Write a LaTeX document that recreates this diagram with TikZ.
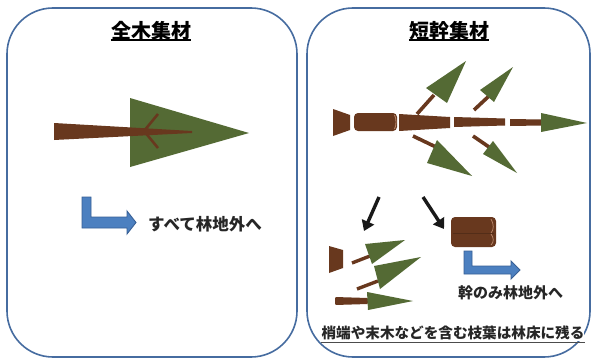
\documentclass[tikz,border=0pt]{standalone}
\usepackage{fontspec}
\setmainfont{Noto Sans CJK JP}
\usetikzlibrary{arrows.meta}
\definecolor{panelblue}{RGB}{70,108,160}
\definecolor{bark}{RGB}{104,56,30}
\definecolor{barkhi}{RGB}{190,140,110}
\definecolor{leaf}{RGB}{84,106,52}
\definecolor{flowfill}{RGB}{76,128,192}
\definecolor{flowline}{RGB}{56,96,150}
\tikzset{
  panel/.style={draw=panelblue, line width=1.6pt, rounded corners=46pt},
  wood/.style={fill=bark, draw=none},
  twig/.style={draw=bark, line width=3.6pt},
  needle/.style={fill=leaf, draw=none},
  flow/.style={fill=flowfill, draw=flowline, line width=0.9pt, line join=miter},
  push/.style={draw=black!90, line width=3.4pt, -{Triangle[length=10pt,width=13pt]}},
  heading/.style={font=\fontsize{20pt}{22pt}\selectfont\bfseries, inner sep=0pt},
  caption/.style={inner sep=0pt, text=black!85}
}
\begin{document}
\begin{tikzpicture}[x=1pt,y=-1pt]
\useasboundingbox (0,0) rectangle (593,361);
\fill[white] (0,0) rectangle (593,361);

% two frames
\draw[panel] (7,8) rectangle (297,357);
\draw[panel] (307,8) rectangle (590,357);

% headings
\node[heading] (h1) at (151,31) {全木集材};
\draw[line width=1.2pt] (h1.south west |- 0,40) -- (h1.south east |- 0,40);
\node[heading] (h2) at (449,31) {短幹集材};
\draw[line width=1.2pt] (h2.south west |- 0,40) -- (h2.south east |- 0,40);

% whole tree
\fill[needle] (130,98) -- (249,133) -- (130,167) -- cycle;
\fill[wood] (54,123) -- (192,131) -- (192,133) -- (54,140) -- cycle;
\draw[draw=bark, line width=2.6pt, line join=miter] (158,114) -- (144,131) -- (158,148);

% flow arrow, left side
\draw[flow] (82,197) -- (91,197) -- (91,217) -- (127,217) -- (127,211) -- (136,222.5)
  -- (127,234) -- (127,228) -- (82,228) -- cycle;
\node[caption, font=\fontsize{16.5pt}{18pt}\selectfont\bfseries, anchor=west] (t1) at (148,224) {すべて林地外へ};

% short-wood logging: upper branches
\draw[twig] (417,114) -- (434,95);
\fill[needle] (426,88) -- (466,61) -- (447,103) -- cycle;
\draw[twig] (474,110) -- (489,96);
\fill[needle] (480,90) -- (513,67) -- (494,102) -- cycle;
% lower branches
\draw[twig] (413,136) -- (438,148);
\fill[needle] (427,163) -- (437,140) -- (472,176) -- cycle;
\draw[twig] (473,136) -- (489,147);
\fill[needle] (483,154) -- (493,141) -- (517,173) -- cycle;

% bucked stem
\fill[wood] (333,109) -- (350,115) -- (350,130) -- (333,136) -- cycle;
\fill[wood, rounded corners=4pt] (354,113) rectangle (397,131);
\draw[barkhi, line width=0.8pt] (394.5,115) .. controls (396.5,119) and (396.5,125) .. (394.5,129);
\fill[wood] (399,114) -- (450,117) -- (450,128) -- (399,131) -- cycle;
\fill[wood] (454,117) -- (505,118.5) -- (505,125.5) -- (454,127) -- cycle;
\fill[wood] (510,119) -- (542,119.5) -- (542,125.5) -- (510,126) -- cycle;
\fill[needle] (541,113) -- (587,123) -- (541,132) -- cycle;

% separation arrows
\coordinate (a1s) at (379,197);
\coordinate (a1e) at (364,231);
\coordinate (a2s) at (423,197);
\coordinate (a2e) at (444,229);
\draw[push] (a1s) -- (a1e);
\draw[push] (a2s) -- (a2e);

% log taken out
\fill[wood, rounded corners=4pt] (451,217) rectangle (496,247);
\draw[barkhi, line width=0.7pt] (491,219) .. controls (494,224) and (494,230) .. (491,233);
\draw[barkhi, line width=0.7pt] (491,234) .. controls (494,238) and (494,242) .. (491,245);
\draw[bark!80!black, line width=0.5pt] (453,233) -- (494,233);

% flow arrow, right side
\draw[flow] (464,251) -- (472,251) -- (472,266) -- (511,266) -- (511,261) -- (520,270)
  -- (511,279) -- (511,274) -- (464,274) -- cycle;
\node[caption, font=\fontsize{15pt}{17pt}\selectfont\bfseries, anchor=west] (t2) at (458,293) {幹のみ林地外へ};

% residues left in the stand
\fill[wood] (329,246) -- (343,250) -- (343,268) -- (329,273) -- cycle;
\draw[draw=bark, line width=3.4pt] (352,263) -- (370,256);
\fill[needle] (365,244) -- (405,240) -- (372,264) -- cycle;
\draw[draw=bark, line width=3.4pt] (357,289) -- (378,281);
\fill[needle] (374,266) -- (421,257) -- (380,289) -- cycle;
\fill[wood, rounded corners=1pt] (335,297) -- (368,298) -- (368,304) -- (335,305) -- cycle;
\fill[needle] (367,292) -- (413,301) -- (368,310) -- cycle;

\node[caption, font=\fontsize{14.6pt}{16pt}\selectfont\bfseries, fill=white, inner ysep=1pt] (t3) at (453,333) {梢端や末木などを含む枝葉は林床に残る};
\draw[line width=1pt, black!70] (t3.west |- 0,342) -- (t3.east |- 0,342);
\end{tikzpicture}
\end{document}
